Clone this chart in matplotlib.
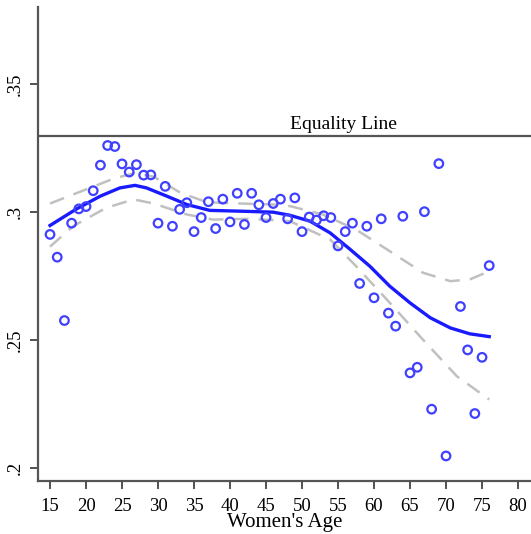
import matplotlib
matplotlib.use("Agg")
import matplotlib.pyplot as plt

# Scatter data (age, ratio)
ages = [15, 16, 17, 18, 19, 20, 21, 22, 23, 24, 25, 26, 27, 28, 29, 30, 31, 32, 33, 34,
        35, 36, 37, 38, 39, 40, 41, 42, 43, 44, 45, 46, 47, 48, 49, 50, 51, 52, 53, 54,
        55, 56, 57, 58, 59, 60, 61, 62, 63, 64, 65, 66, 67, 68, 69, 70, 72, 73, 74, 75, 76]
values = [0.2913, 0.2824, 0.2576, 0.2957, 0.3013, 0.3022, 0.3084, 0.3184, 0.3261, 0.3257,
          0.3189, 0.3157, 0.3186, 0.3145, 0.3146, 0.2957, 0.3101, 0.2945, 0.3011, 0.3037,
          0.2924, 0.2979, 0.3041, 0.2936, 0.3051, 0.2962, 0.3074, 0.2952, 0.3074, 0.3029,
          0.2979, 0.3034, 0.3051, 0.2974, 0.3056, 0.2924, 0.2981, 0.2969, 0.2986, 0.2979,
          0.2868, 0.2924, 0.2957, 0.2721, 0.2945, 0.2665, 0.2974, 0.2605, 0.2554, 0.2984,
          0.2371, 0.2393, 0.3002, 0.2229, 0.3190, 0.2046, 0.2631, 0.2461, 0.2212, 0.2432,
          0.2791]

# Smoothed fit
fit_ages = [15, 18.7, 22, 24.7, 26.8, 28.4, 31.2, 34, 37.2, 41.4, 46, 48.3, 51.1, 53.9,
            56.7, 59.4, 62.2, 65, 67.8, 70.6, 73.3, 76]
fit = [0.2948, 0.3013, 0.3063, 0.3095, 0.3105, 0.3095, 0.3063, 0.3030, 0.3007, 0.3004,
       0.3000, 0.2988, 0.2965, 0.2919, 0.2854, 0.2789, 0.2710, 0.2645, 0.2587, 0.2547,
       0.2524, 0.2513]

# Confidence band
upper_ages = [15, 20, 23.8, 26.6, 29.4, 33.1, 36.8, 41.4, 46, 48.3, 52.9, 57.5, 62.2,
              66.8, 70.6, 73.3, 76]
upper = [0.3034, 0.3089, 0.3131, 0.3152, 0.3139, 0.3076, 0.3039, 0.3034, 0.3030, 0.3024,
         0.2991, 0.2932, 0.2847, 0.2763, 0.2730, 0.2737, 0.2769]
lower_ages = [15, 18.2, 22.8, 26.6, 29.4, 34, 37.7, 42.3, 46.9, 48.3, 53.9, 57.5, 62.2,
              66.8, 71.5, 76]
lower = [0.2865, 0.2945, 0.3017, 0.3050, 0.3034, 0.2991, 0.2971, 0.2974, 0.2968, 0.2965,
         0.2893, 0.2789, 0.2645, 0.2501, 0.2358, 0.2267]

equality = 0.33
xticks = [15, 20, 25, 30, 35, 40, 45, 50, 55, 60, 65, 70, 75, 80]
yticks = [0.2, 0.25, 0.3, 0.35]
yticklabels = [".2", ".25", ".3", ".35"]

plt.rcParams['font.family'] = ['Liberation Serif', 'DejaVu Serif']

fig = plt.figure(figsize=(5.31, 5.34), dpi=100)
ax = fig.add_axes([38/531, 1 - 481/534, (531 - 38)/531, (481 - 7)/534])

ax.plot(upper_ages, upper, color='#c0c0c0', lw=1.8, dashes=(6, 4), zorder=2)
ax.plot(lower_ages, lower, color='#c0c0c0', lw=1.8, dashes=(6, 4), zorder=2)
ax.plot(fit_ages, fit, color='#1a1aff', lw=2.4, zorder=3)
ax.scatter(ages, values, s=38, facecolors='none', edgecolors='#4040ff', linewidths=1.6, zorder=4)

ax.axhline(equality, color='#555555', lw=1.6, zorder=1)
ax.text(55.8, equality + 0.0008, "Equality Line", ha='center', va='bottom', fontsize=14)

ax.set_xlim(13.33, 81.8)
ax.set_ylim(0.1948, 0.3803)
ax.set_xticks(xticks)
ax.set_xticklabels([str(t) for t in xticks], fontsize=13.5)
ax.set_yticks(yticks)
ax.set_yticklabels(yticklabels, fontsize=13.5, rotation=90, va='center')
ax.tick_params(axis='x', direction='out', length=6, width=1.3, color='#444444', pad=6)
ax.tick_params(axis='y', direction='out', length=6, width=1.3, color='#444444', pad=4)
ax.set_xlabel("Women's Age", fontsize=15, labelpad=-1)

for s in ['top', 'right']:
    ax.spines[s].set_visible(False)
for s in ['left', 'bottom']:
    ax.spines[s].set_color('#555555')
    ax.spines[s].set_linewidth(1.6)

fig.savefig("out.png", dpi=100)
